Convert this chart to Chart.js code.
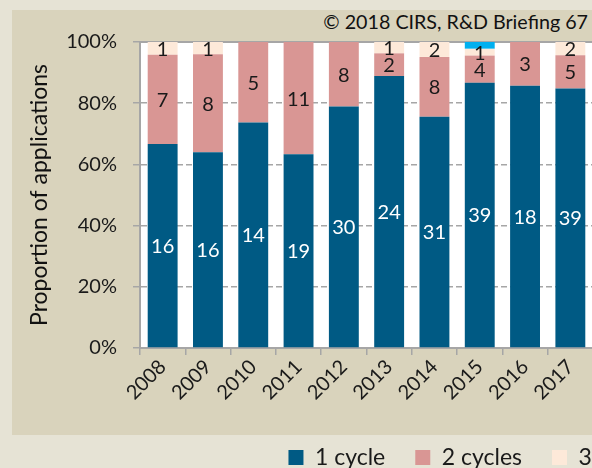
<!DOCTYPE html>
<html>
<head>
<meta charset="utf-8">
<script src="https://cdn.jsdelivr.net/npm/chart.js@4.4.1/dist/chart.umd.min.js"></script>
<style>
  html, body { margin: 0; padding: 0; width: 592px; height: 468px; overflow: hidden; background: #e6e3d5; }
  #panel { position: absolute; left: 12px; top: 10px; width: 580px; height: 425px; background: #d9d3bc; }
  #note { position: absolute; right: 4px; top: 10px; font: 19.7px Lato, sans-serif; color: #111; white-space: nowrap; }
  #wrap { position: absolute; left: 0; top: 0; width: 1084px; height: 479px; }
</style>
</head>
<body>
<div id="panel"></div>
<div id="note">© 2018 CIRS, R&amp;D Briefing 67</div>
<div id="wrap"><canvas id="cycleChart"></canvas></div>
<script>
const years = ["2008", "2009", "2010", "2011", "2012", "2013", "2014", "2015", "2016", "2017"];
const oneCycle = [16, 16, 14, 19, 30, 24, 31, 39, 18, 39];
const twoCycles = [7, 8, 5, 11, 8, 2, 8, 4, 3, 5];
const threeCycles = [1, 1, 0, 0, 0, 1, 2, 1, 0, 2];
const fourCycles = [0, 0, 0, 0, 0, 0, 0, 1, 0, 0];
const percentTicks = [0, 20, 40, 60, 80, 100];

const FONT = "Lato, sans-serif";
const CANVAS_W = 1084;
const PLOT_RIGHT = 593;

const totals = years.map((y, i) => oneCycle[i] + twoCycles[i] + threeCycles[i] + fourCycles[i]);
const share = counts => counts.map((n, i) => n / totals[i] * 100);

// white plot area inside the beige panel
const plotBackground = {
    id: 'plotBackground',
    beforeDraw(chart) {
        const {ctx, chartArea: a} = chart;
        ctx.save();
        ctx.fillStyle = '#ffffff';
        ctx.fillRect(a.left, a.top, a.right - a.left, a.bottom - a.top);
        ctx.restore();
    }
};

// counts written in the middle of each segment
const segmentLabels = {
    id: 'segmentLabels',
    afterDatasetsDraw(chart) {
        const ctx = chart.ctx;
        ctx.save();
        ctx.font = '20px ' + FONT;
        ctx.textAlign = 'center';
        ctx.textBaseline = 'middle';
        chart.data.datasets.forEach((ds, i) => {
            if (!ds.showCounts) return;
            chart.getDatasetMeta(i).data.forEach((bar, j) => {
                const n = ds.counts[j];
                if (!n) return;
                const p = bar.getProps(['x', 'y', 'base'], true);
                ctx.fillStyle = ds.labelColor;
                ctx.fillText(String(n), p.x, (p.y + p.base) / 2 + 1);
            });
        });
        ctx.restore();
    }
};

function makeSet(label, counts, color, labelColor, showCounts) {
    return {
        label: label,
        data: share(counts),
        counts: counts,
        backgroundColor: color,
        borderWidth: 0,
        labelColor: labelColor,
        showCounts: showCounts,
        categoryPercentage: 1,
        barPercentage: 0.66
    };
}

new Chart(document.getElementById('cycleChart'), {
    type: 'bar',
    data: {
        labels: years,
        datasets: [
            makeSet('1 cycle', oneCycle, '#005a84', '#ffffff', true),
            makeSet('2 cycles', twoCycles, '#d99694', '#1a1a1a', true),
            makeSet('3 cycles', threeCycles, '#fde9d9', '#1a1a1a', true),
            makeSet('4 cycles', fourCycles, '#00b0f0', '#1a1a1a', false)
        ]
    },
    options: {
        responsive: true,
        maintainAspectRatio: false,
        animation: false,
        layout: { padding: { top: 42, left: 0, right: 0, bottom: 0 } },
        plugins: {
            legend: {
                position: 'bottom',
                labels: {
                    boxWidth: 15,
                    boxHeight: 15,
                    padding: 30,
                    color: '#1a1a1a',
                    font: { size: 23, family: FONT }
                }
            },
            tooltip: { enabled: false }
        },
        scales: {
            x: {
                stacked: true,
                grid: { drawOnChartArea: false, color: '#a6a6a6', lineWidth: 1.5, tickLength: 7 },
                border: { color: '#a6a6a6', width: 2 },
                ticks: {
                    color: '#1a1a1a',
                    font: { size: 20, family: FONT },
                    minRotation: 45,
                    maxRotation: 45,
                    autoSkip: false,
                    padding: 0
                },
                afterFit: s => { s.height = 68; }
            },
            xTop: {
                type: 'category',
                position: 'top',
                grid: { display: false, drawTicks: false },
                ticks: { display: false },
                border: { color: '#a6a6a6', width: 2 }
            },
            y: {
                stacked: true,
                min: 0,
                max: 100,
                afterBuildTicks: s => { s.ticks = percentTicks.map(v => ({ value: v })); },
                ticks: {
                    color: '#1a1a1a',
                    padding: 16,
                    font: { size: 20, family: FONT },
                    callback: v => v + '%'
                },
                grid: { color: '#a6a6a6', lineWidth: 1.5, tickLength: 7, tickBorderDash: [] },
                border: { color: '#a6a6a6', width: 2, dash: [6, 3] },
                title: {
                    display: true,
                    text: 'Proportion of applications',
                    color: '#111',
                    font: { size: 23, family: FONT },
                    padding: { top: 26, bottom: 0 }
                },
                afterFit: s => { s.width = 140; }
            },
            spacer: {
                type: 'linear',
                position: 'right',
                grid: { display: false, drawTicks: false },
                ticks: { display: false },
                border: { display: false },
                afterFit: s => { s.width = CANVAS_W - PLOT_RIGHT; }
            }
        }
    },
    plugins: [plotBackground, segmentLabels]
});
</script>
</body>
</html>
